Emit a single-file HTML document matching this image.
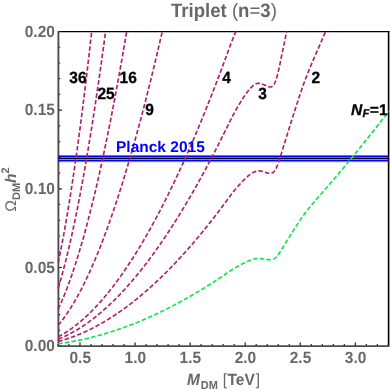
<!DOCTYPE html>
<html><head><meta charset="utf-8"><title>Triplet (n=3)</title>
<style>html,body{margin:0;padding:0;background:#fff;}body{width:390px;height:391px;position:relative;overflow:hidden;font-family:"Liberation Sans",sans-serif;}</style>
</head><body>
<svg width="390" height="391" viewBox="0 0 390 391" style="position:absolute;left:0;top:0;display:block">
<rect width="390" height="391" fill="#fff"/>
<g style="will-change:transform;text-rendering:geometricPrecision">
<path d="M58.2,31.5 H389.40000000000003" fill="none" stroke="#000" stroke-width="1.25"/>
<path d="M388.6,30.9 V346.1" fill="none" stroke="#000" stroke-width="1.6"/>
<path d="M58.2,346.10 h3.6 M58.2,330.37 h2.0 M58.2,314.64 h2.0 M58.2,298.91 h2.0 M58.2,283.18 h2.0 M58.2,267.45 h3.6 M58.2,251.72 h2.0 M58.2,235.99 h2.0 M58.2,220.26 h2.0 M58.2,204.53 h2.0 M58.2,188.80 h3.6 M58.2,173.07 h2.0 M58.2,157.34 h2.0 M58.2,141.61 h2.0 M58.2,125.88 h2.0 M58.2,110.15 h3.6 M58.2,94.42 h2.0 M58.2,78.69 h2.0 M58.2,62.96 h2.0 M58.2,47.23 h2.0 M58.2,31.50 h3.6 M57.95,346.1 v-2.0 M68.96,346.1 v-2.0 M79.98,346.1 v-3.6 M90.99,346.1 v-2.0 M102.00,346.1 v-2.0 M113.02,346.1 v-2.0 M124.03,346.1 v-2.0 M135.04,346.1 v-3.6 M146.06,346.1 v-2.0 M157.07,346.1 v-2.0 M168.08,346.1 v-2.0 M179.10,346.1 v-2.0 M190.11,346.1 v-3.6 M201.12,346.1 v-2.0 M212.14,346.1 v-2.0 M223.15,346.1 v-2.0 M234.16,346.1 v-2.0 M245.18,346.1 v-3.6 M256.19,346.1 v-2.0 M267.20,346.1 v-2.0 M278.22,346.1 v-2.0 M289.23,346.1 v-2.0 M300.24,346.1 v-3.6 M311.26,346.1 v-2.0 M322.27,346.1 v-2.0 M333.28,346.1 v-2.0 M344.30,346.1 v-2.0 M355.31,346.1 v-3.6 M366.32,346.1 v-2.0 M377.34,346.1 v-2.0 M388.35,346.1 v-2.0" fill="none" stroke="#111" stroke-width="1.15"/>
<path d="M58.400000000000006,30.9 V346.1 H389.40000000000003" fill="none" stroke="#4d4d4d" stroke-width="1.9" stroke-linejoin="miter"/>
<rect x="58.30" y="154" width="330.00" height="1" fill="rgba(0,0,255,0.02)"/>
<rect x="58.30" y="155" width="330.00" height="1" fill="rgba(0,0,255,0.58)"/>
<rect x="58.30" y="156" width="330.00" height="1" fill="#0000ff"/>
<rect x="58.30" y="157" width="330.00" height="1" fill="rgba(0,0,110,0.584)"/>
<rect x="58.30" y="158" width="330.00" height="1" fill="#000000"/>
<rect x="58.30" y="159" width="330.00" height="1" fill="rgba(0,0,92,0.46)"/>
<rect x="58.30" y="160" width="330.00" height="1" fill="#0000ff"/>
<rect x="58.30" y="161" width="330.00" height="1" fill="rgba(0,0,255,0.537)"/>
<rect x="58.30" y="162" width="330.00" height="1" fill="rgba(0,0,255,0.075)"/>
<g fill="none" stroke="#AE1F6E" stroke-width="1.65" stroke-dasharray="4.5 2.2">
<path d="M58.20,341.47 L58.53,341.38 L58.86,341.30 L59.19,341.21 L59.52,341.12 L59.85,341.03 L60.18,340.93 L60.51,340.84 L60.84,340.75 L61.17,340.66 L61.51,340.56 L61.84,340.47 L62.17,340.37 L62.50,340.27 L62.83,340.18 L63.16,340.08 L63.49,339.98 L63.82,339.88 L64.15,339.78 L64.48,339.68 L64.81,339.57 L65.14,339.47 L65.47,339.37 L65.80,339.26 L66.13,339.15 L66.46,339.05 L66.79,338.94 L67.12,338.83 L67.45,338.72 L67.78,338.61 L68.12,338.50 L68.45,338.39 L68.78,338.28 L69.11,338.17 L69.44,338.05 L69.77,337.94 L70.10,337.83 L70.43,337.71 L70.76,337.59 L71.09,337.47 L71.42,337.36 L71.75,337.24 L72.08,337.12 L72.41,337.00 L72.74,336.88 L73.07,336.75 L73.40,336.63 L73.73,336.51 L74.06,336.38 L74.39,336.26 L74.73,336.13 L75.06,336.00 L75.39,335.88 L75.72,335.75 L76.05,335.62 L76.38,335.49 L76.71,335.36 L77.04,335.23 L77.37,335.09 L77.70,334.96 L78.03,334.83 L78.36,334.69 L78.69,334.56 L79.02,334.42 L79.35,334.28 L79.68,334.14 L80.01,334.01 L80.34,333.87 L80.67,333.73 L81.01,333.58 L81.34,333.44 L81.67,333.30 L82.00,333.16 L82.33,333.01 L82.66,332.87 L82.99,332.72 L83.32,332.58 L83.65,332.43 L83.98,332.28 L84.31,332.13 L84.64,331.98 L84.97,331.83 L85.30,331.68 L85.63,331.53 L85.96,331.38 L86.29,331.22 L86.62,331.07 L86.95,330.91 L87.28,330.76 L87.62,330.60 L87.95,330.44 L88.28,330.29 L88.61,330.13 L88.94,329.97 L89.27,329.81 L89.60,329.65 L89.93,329.48 L90.26,329.32 L90.59,329.16 L90.92,328.99 L91.25,328.83 L91.58,328.66 L91.91,328.50 L92.24,328.33 L92.57,328.16 L92.90,327.99 L93.23,327.82 L93.56,327.65 L93.90,327.48 L94.23,327.31 L94.56,327.14 L94.89,326.96 L95.22,326.79 L95.55,326.62 L95.88,326.44 L96.21,326.26 L96.54,326.09 L96.87,325.91 L97.20,325.73 L97.53,325.55 L97.86,325.37 L98.19,325.19 L98.52,325.01 L98.85,324.83 L99.18,324.64 L99.51,324.46 L99.84,324.27 L100.17,324.09 L100.51,323.90 L100.84,323.71 L101.17,323.53 L101.50,323.34 L101.83,323.15 L102.16,322.96 L102.49,322.77 L102.82,322.58 L103.15,322.38 L103.48,322.19 L103.81,322.00 L104.14,321.80 L104.47,321.61 L104.80,321.41 L105.13,321.21 L105.46,321.02 L105.79,320.82 L106.12,320.62 L106.45,320.42 L106.78,320.22 L107.12,320.02 L107.45,319.82 L107.78,319.61 L108.11,319.41 L108.44,319.20 L108.77,319.00 L109.10,318.79 L109.43,318.59 L109.76,318.38 L110.09,318.17 L110.42,317.96 L110.75,317.75 L111.08,317.54 L111.41,317.33 L111.74,317.12 L112.07,316.91 L112.40,316.69 L112.73,316.48 L113.06,316.27 L113.40,316.05 L113.73,315.83 L114.06,315.62 L114.39,315.40 L114.72,315.18 L115.05,314.96 L115.38,314.74 L115.71,314.52 L116.04,314.30 L116.37,314.08 L116.70,313.85 L117.03,313.63 L117.36,313.40 L117.69,313.18 L118.02,312.95 L118.35,312.73 L118.68,312.50 L119.01,312.27 L119.34,312.04 L119.67,311.81 L120.01,311.58 L120.34,311.35 L120.67,311.12 L121.00,310.89 L121.33,310.65 L121.66,310.42 L121.99,310.19 L122.32,309.95 L122.65,309.71 L122.98,309.48 L123.31,309.24 L123.64,309.00 L123.97,308.76 L124.30,308.52 L124.63,308.28 L124.96,308.04 L125.29,307.80 L125.62,307.55 L125.95,307.31 L126.29,307.07 L126.62,306.82 L126.95,306.58 L127.28,306.33 L127.61,306.08 L127.94,305.83 L128.27,305.59 L128.60,305.34 L128.93,305.09 L129.26,304.83 L129.59,304.58 L129.92,304.33 L130.25,304.08 L130.58,303.82 L130.91,303.57 L131.24,303.31 L131.57,303.06 L131.90,302.80 L132.23,302.54 L132.56,302.29 L132.90,302.03 L133.23,301.77 L133.56,301.51 L133.89,301.25 L134.22,300.98 L134.55,300.72 L134.88,300.46 L135.21,300.20 L135.54,299.93 L135.87,299.67 L136.20,299.40 L136.53,299.13 L136.86,298.86 L137.19,298.60 L137.52,298.33 L137.85,298.06 L138.18,297.79 L138.51,297.52 L138.84,297.24 L139.17,296.97 L139.51,296.70 L139.84,296.42 L140.17,296.15 L140.50,295.87 L140.83,295.60 L141.16,295.32 L141.49,295.04 L141.82,294.77 L142.15,294.49 L142.48,294.21 L142.81,293.93 L143.14,293.65 L143.47,293.36 L143.80,293.08 L144.13,292.80 L144.46,292.51 L144.79,292.23 L145.12,291.94 L145.45,291.66 L145.79,291.37 L146.12,291.08 L146.45,290.80 L146.78,290.51 L147.11,290.22 L147.44,289.93 L147.77,289.64 L148.10,289.34 L148.43,289.05 L148.76,288.76 L149.09,288.46 L149.42,288.17 L149.75,287.87 L150.08,287.58 L150.41,287.28 L150.74,286.98 L151.07,286.69 L151.40,286.39 L151.73,286.09 L152.06,285.79 L152.40,285.49 L152.73,285.18 L153.06,284.88 L153.39,284.58 L153.72,284.28 L154.05,283.97 L154.38,283.67 L154.71,283.36 L155.04,283.05 L155.37,282.75 L155.70,282.44 L156.03,282.13 L156.36,281.82 L156.69,281.51 L157.02,281.20 L157.35,280.89 L157.68,280.58 L158.01,280.26 L158.34,279.95 L158.68,279.64 L159.01,279.32 L159.34,279.00 L159.67,278.69 L160.00,278.37 L160.33,278.05 L160.66,277.74 L160.99,277.42 L161.32,277.10 L161.65,276.78 L161.98,276.45 L162.31,276.13 L162.64,275.81 L162.97,275.49 L163.30,275.16 L163.63,274.84 L163.96,274.51 L164.29,274.19 L164.62,273.86 L164.95,273.53 L165.29,273.20 L165.62,272.88 L165.95,272.55 L166.28,272.22 L166.61,271.89 L166.94,271.55 L167.27,271.22 L167.60,270.89 L167.93,270.56 L168.26,270.22 L168.59,269.89 L168.92,269.55 L169.25,269.21 L169.58,268.88 L169.91,268.54 L170.24,268.20 L170.57,267.86 L170.90,267.52 L171.23,267.18 L171.56,266.84 L171.90,266.50 L172.23,266.16 L172.56,265.81 L172.89,265.47 L173.22,265.12 L173.55,264.78 L173.88,264.43 L174.21,264.09 L174.54,263.74 L174.87,263.39 L175.20,263.04 L175.53,262.69 L175.86,262.34 L176.19,261.99 L176.52,261.64 L176.85,261.29 L177.18,260.94 L177.51,260.58 L177.84,260.23 L178.18,259.87 L178.51,259.52 L178.84,259.16 L179.17,258.81 L179.50,258.45 L179.83,258.09 L180.16,257.73 L180.49,257.37 L180.82,257.01 L181.15,256.65 L181.48,256.29 L181.81,255.93 L182.14,255.56 L182.47,255.20 L182.80,254.84 L183.13,254.47 L183.46,254.11 L183.79,253.74 L184.12,253.37 L184.45,253.01 L184.79,252.64 L185.12,252.27 L185.45,251.90 L185.78,251.53 L186.11,251.16 L186.44,250.79 L186.77,250.41 L187.10,250.04 L187.43,249.67 L187.76,249.29 L188.09,248.92 L188.42,248.54 L188.75,248.17 L189.08,247.79 L189.41,247.41 L189.74,247.03 L190.07,246.66 L190.40,246.28 L190.73,245.90 L191.07,245.51 L191.40,245.13 L191.73,244.75 L192.06,244.37 L192.39,243.98 L192.72,243.60 L193.05,243.22 L193.38,242.83 L193.71,242.44 L194.04,242.06 L194.37,241.67 L194.70,241.28 L195.03,240.89 L195.36,240.50 L195.69,240.11 L196.02,239.72 L196.35,239.33 L196.68,238.94 L197.01,238.55 L197.34,238.15 L197.68,237.76 L198.01,237.36 L198.34,236.97 L198.67,236.57 L199.00,236.18 L199.33,235.78 L199.66,235.38 L199.99,234.98 L200.32,234.58 L200.65,234.18 L200.98,233.78 L201.31,233.38 L201.64,232.98 L201.97,232.58 L202.30,232.17 L202.63,231.77 L202.96,231.36 L203.29,230.96 L203.62,230.55 L203.95,230.15 L204.29,229.74 L204.62,229.33 L204.95,228.92 L205.28,228.51 L205.61,228.10 L205.94,227.69 L206.27,227.28 L206.60,226.87 L206.93,226.46 L207.26,226.05 L207.59,225.63 L207.92,225.22 L208.25,224.80 L208.58,224.39 L208.91,223.97 L209.24,223.55 L209.57,223.14 L209.90,222.72 L210.23,222.30 L210.57,221.88 L210.90,221.46 L211.23,221.04 L211.56,220.62 L211.89,220.20 L212.22,219.77 L212.55,219.35 L212.88,218.93 L213.21,218.50 L213.54,218.08 L213.87,217.65 L214.20,217.23 L214.53,216.80 L214.86,216.37 L215.19,215.94 L215.52,215.51 L215.85,215.08 L216.18,214.65 L216.51,214.22 L216.84,213.79 L217.18,213.36 L217.51,212.93 L217.84,212.49 L218.17,212.06 L218.50,211.62 L218.83,211.19 L219.16,210.75 L219.49,210.32 L219.82,209.88 L220.15,209.44 L220.48,209.00 L220.81,208.56 L221.14,208.12 L221.47,207.68 L221.80,207.24 L222.13,206.80 L222.46,206.36 L222.79,205.91 L223.12,205.47 L223.46,205.03 L223.79,204.58 L224.12,204.14 L224.45,203.69 L224.78,203.24 L225.11,202.80 L225.44,202.35 L225.77,201.90 L226.10,201.45 L226.43,201.00 L226.76,200.55 L227.09,200.10 L227.42,199.65 L227.75,199.19 L228.08,198.74 L228.41,198.29 L228.74,197.83 L229.07,197.38 L229.40,196.93 L229.73,196.48 L230.07,196.04 L230.40,195.60 L230.73,195.16 L231.06,194.73 L231.39,194.30 L231.72,193.87 L232.05,193.44 L232.38,193.02 L232.71,192.61 L233.04,192.19 L233.37,191.78 L233.70,191.37 L234.03,190.97 L234.36,190.56 L234.69,190.16 L235.02,189.77 L235.35,189.37 L235.68,188.98 L236.01,188.59 L236.34,188.20 L236.68,187.81 L237.01,187.43 L237.34,187.05 L237.67,186.67 L238.00,186.29 L238.33,185.91 L238.66,185.54 L238.99,185.17 L239.32,184.80 L239.65,184.43 L239.98,184.07 L240.31,183.71 L240.64,183.35 L240.97,182.99 L241.30,182.63 L241.63,182.28 L241.96,181.93 L242.29,181.59 L242.62,181.24 L242.96,180.90 L243.29,180.56 L243.62,180.23 L243.95,179.89 L244.28,179.56 L244.61,179.24 L244.94,178.91 L245.27,178.59 L245.60,178.28 L245.93,177.97 L246.26,177.66 L246.59,177.35 L246.92,177.05 L247.25,176.76 L247.58,176.47 L247.91,176.19 L248.24,175.91 L248.57,175.63 L248.90,175.37 L249.23,175.10 L249.57,174.85 L249.90,174.60 L250.23,174.36 L250.56,174.12 L250.89,173.89 L251.22,173.66 L251.55,173.45 L251.88,173.24 L252.21,173.03 L252.54,172.84 L252.87,172.65 L253.20,172.47 L253.53,172.30 L253.86,172.13 L254.19,171.98 L254.52,171.83 L254.85,171.70 L255.18,171.57 L255.51,171.45 L255.85,171.34 L256.18,171.25 L256.51,171.16 L256.84,171.09 L257.17,171.04 L257.50,170.99 L257.83,170.96 L258.16,170.94 L258.49,170.93 L258.82,170.93 L259.15,170.94 L259.48,170.96 L259.81,170.98 L260.14,171.02 L260.47,171.06 L260.80,171.11 L261.13,171.17 L261.46,171.24 L261.79,171.31 L262.12,171.39 L262.46,171.47 L262.79,171.55 L263.12,171.64 L263.45,171.73 L263.78,171.83 L264.11,171.92 L264.44,172.02 L264.77,172.12 L265.10,172.22 L265.43,172.32 L265.76,172.42 L266.09,172.53 L266.42,172.63 L266.75,172.73 L267.08,172.84 L267.41,172.93 L267.74,173.02 L268.07,173.10 L268.40,173.18 L268.73,173.24 L269.07,173.29 L269.40,173.33 L269.73,173.36 L270.06,173.37 L270.39,173.37 L270.72,173.35 L271.05,173.31 L271.38,173.25 L271.71,173.16 L272.04,173.05 L272.37,172.89 L272.70,172.71 L273.03,172.49 L273.36,172.24 L273.69,171.95 L274.02,171.61 L274.35,171.23 L274.68,170.80 L275.01,170.31 L275.35,169.78 L275.68,169.21 L276.01,168.59 L276.34,167.92 L276.67,167.20 L277.00,166.44 L277.33,165.63 L277.66,164.78 L277.99,163.89 L278.32,162.96 L278.65,162.00 L278.98,161.02 L279.31,160.02 L279.64,159.00 L279.97,157.95 L280.30,156.90 L280.63,155.83 L280.96,154.77 L281.29,153.70 L281.62,152.63 L281.96,151.56 L282.29,150.50 L282.62,149.43 L282.95,148.36 L283.28,147.30 L283.61,146.23 L283.94,145.16 L284.27,144.10 L284.60,143.03 L284.93,141.96 L285.26,140.90 L285.59,139.83 L285.92,138.77 L286.25,137.70 L286.58,136.64 L286.91,135.57 L287.24,134.51 L287.57,133.45 L287.90,132.39 L288.24,131.33 L288.57,130.27 L288.90,129.21 L289.23,128.15 L289.56,127.10 L289.89,126.04 L290.22,124.99 L290.55,123.94 L290.88,122.89 L291.21,121.84 L291.54,120.79 L291.87,119.74 L292.20,118.69 L292.53,117.65 L292.86,116.60 L293.19,115.56 L293.52,114.52 L293.85,113.48 L294.18,112.44 L294.51,111.40 L294.85,110.37 L295.18,109.33 L295.51,108.30 L295.84,107.27 L296.17,106.24 L296.50,105.22 L296.83,104.19 L297.16,103.17 L297.49,102.15 L297.82,101.14 L298.15,100.13 L298.48,99.12 L298.81,98.11 L299.14,97.11 L299.47,96.12 L299.80,95.13 L300.13,94.15 L300.46,93.17 L300.79,92.20 L301.12,91.23 L301.46,90.27 L301.79,89.32 L302.12,88.37 L302.45,87.43 L302.78,86.49 L303.11,85.56 L303.44,84.64 L303.77,83.72 L304.10,82.81 L304.43,81.91 L304.76,81.01 L305.09,80.13 L305.42,79.25 L305.75,78.37 L306.08,77.51 L306.41,76.65 L306.74,75.80 L307.07,74.96 L307.40,74.12 L307.74,73.29 L308.07,72.46 L308.40,71.64 L308.73,70.83 L309.06,70.01 L309.39,69.21 L309.72,68.41 L310.05,67.61 L310.38,66.81 L310.71,66.03 L311.04,65.24 L311.37,64.46 L311.70,63.68 L312.03,62.91 L312.36,62.14 L312.69,61.37 L313.02,60.60 L313.35,59.84 L313.68,59.07 L314.01,58.31 L314.35,57.54 L314.68,56.78 L315.01,56.01 L315.34,55.25 L315.67,54.48 L316.00,53.72 L316.33,52.95 L316.66,52.19 L316.99,51.42 L317.32,50.66 L317.65,49.90 L317.98,49.13 L318.31,48.37 L318.64,47.60 L318.97,46.84 L319.30,46.07 L319.63,45.31 L319.96,44.54 L320.29,43.78 L320.63,43.01 L320.96,42.25 L321.29,41.48 L321.62,40.72 L321.95,39.95 L322.28,39.19 L322.61,38.42 L322.94,37.66 L323.27,36.90 L323.60,36.13 L323.93,35.37 L324.26,34.60 L324.59,33.84 L324.92,33.07 L325.25,32.31 L325.58,31.54 L325.60,31.50"/>
<path d="M58.20,339.16 L58.53,339.03 L58.86,338.89 L59.19,338.76 L59.52,338.63 L59.85,338.49 L60.18,338.35 L60.51,338.21 L60.84,338.07 L61.17,337.93 L61.51,337.79 L61.84,337.65 L62.17,337.51 L62.50,337.36 L62.83,337.21 L63.16,337.07 L63.49,336.92 L63.82,336.77 L64.15,336.62 L64.48,336.46 L64.81,336.31 L65.14,336.15 L65.47,336.00 L65.80,335.84 L66.13,335.68 L66.46,335.52 L66.79,335.36 L67.12,335.20 L67.45,335.04 L67.78,334.87 L68.12,334.71 L68.45,334.54 L68.78,334.37 L69.11,334.20 L69.44,334.03 L69.77,333.86 L70.10,333.69 L70.43,333.51 L70.76,333.34 L71.09,333.16 L71.42,332.98 L71.75,332.81 L72.08,332.63 L72.41,332.45 L72.74,332.26 L73.07,332.08 L73.40,331.90 L73.73,331.71 L74.06,331.52 L74.39,331.33 L74.73,331.15 L75.06,330.96 L75.39,330.76 L75.72,330.57 L76.05,330.38 L76.38,330.18 L76.71,329.99 L77.04,329.79 L77.37,329.59 L77.70,329.39 L78.03,329.19 L78.36,328.99 L78.69,328.78 L79.02,328.58 L79.35,328.37 L79.68,328.17 L80.01,327.96 L80.34,327.75 L80.67,327.54 L81.01,327.33 L81.34,327.11 L81.67,326.90 L82.00,326.69 L82.33,326.47 L82.66,326.25 L82.99,326.03 L83.32,325.81 L83.65,325.59 L83.98,325.37 L84.31,325.15 L84.64,324.92 L84.97,324.70 L85.30,324.47 L85.63,324.24 L85.96,324.01 L86.29,323.78 L86.62,323.55 L86.95,323.32 L87.28,323.09 L87.62,322.85 L87.95,322.62 L88.28,322.38 L88.61,322.14 L88.94,321.90 L89.27,321.66 L89.60,321.42 L89.93,321.18 L90.26,320.93 L90.59,320.69 L90.92,320.44 L91.25,320.19 L91.58,319.95 L91.91,319.70 L92.24,319.45 L92.57,319.19 L92.90,318.94 L93.23,318.69 L93.56,318.43 L93.90,318.17 L94.23,317.92 L94.56,317.66 L94.89,317.40 L95.22,317.14 L95.55,316.87 L95.88,316.61 L96.21,316.35 L96.54,316.08 L96.87,315.81 L97.20,315.55 L97.53,315.28 L97.86,315.01 L98.19,314.73 L98.52,314.46 L98.85,314.19 L99.18,313.91 L99.51,313.64 L99.84,313.36 L100.17,313.08 L100.51,312.80 L100.84,312.52 L101.17,312.24 L101.50,311.96 L101.83,311.67 L102.16,311.39 L102.49,311.10 L102.82,310.81 L103.15,310.53 L103.48,310.24 L103.81,309.95 L104.14,309.65 L104.47,309.36 L104.80,309.07 L105.13,308.77 L105.46,308.47 L105.79,308.18 L106.12,307.88 L106.45,307.58 L106.78,307.28 L107.12,306.98 L107.45,306.67 L107.78,306.37 L108.11,306.06 L108.44,305.76 L108.77,305.45 L109.10,305.14 L109.43,304.83 L109.76,304.52 L110.09,304.21 L110.42,303.89 L110.75,303.58 L111.08,303.26 L111.41,302.95 L111.74,302.63 L112.07,302.31 L112.40,301.99 L112.73,301.67 L113.06,301.35 L113.40,301.02 L113.73,300.70 L114.06,300.37 L114.39,300.05 L114.72,299.72 L115.05,299.39 L115.38,299.06 L115.71,298.73 L116.04,298.40 L116.37,298.06 L116.70,297.73 L117.03,297.39 L117.36,297.06 L117.69,296.72 L118.02,296.38 L118.35,296.04 L118.68,295.70 L119.01,295.36 L119.34,295.01 L119.67,294.67 L120.01,294.32 L120.34,293.98 L120.67,293.63 L121.00,293.28 L121.33,292.93 L121.66,292.58 L121.99,292.23 L122.32,291.87 L122.65,291.52 L122.98,291.16 L123.31,290.81 L123.64,290.45 L123.97,290.09 L124.30,289.73 L124.63,289.37 L124.96,289.01 L125.29,288.65 L125.62,288.28 L125.95,287.92 L126.29,287.55 L126.62,287.18 L126.95,286.81 L127.28,286.44 L127.61,286.07 L127.94,285.70 L128.27,285.33 L128.60,284.95 L128.93,284.58 L129.26,284.20 L129.59,283.82 L129.92,283.45 L130.25,283.07 L130.58,282.69 L130.91,282.30 L131.24,281.92 L131.57,281.54 L131.90,281.15 L132.23,280.77 L132.56,280.38 L132.90,279.99 L133.23,279.60 L133.56,279.21 L133.89,278.82 L134.22,278.43 L134.55,278.03 L134.88,277.64 L135.21,277.24 L135.54,276.85 L135.87,276.45 L136.20,276.05 L136.53,275.65 L136.86,275.25 L137.19,274.84 L137.52,274.44 L137.85,274.04 L138.18,273.63 L138.51,273.22 L138.84,272.82 L139.17,272.41 L139.51,272.00 L139.84,271.59 L140.17,271.18 L140.50,270.76 L140.83,270.35 L141.16,269.93 L141.49,269.52 L141.82,269.10 L142.15,268.68 L142.48,268.26 L142.81,267.84 L143.14,267.42 L143.47,267.00 L143.80,266.57 L144.13,266.15 L144.46,265.72 L144.79,265.29 L145.12,264.87 L145.45,264.44 L145.79,264.01 L146.12,263.58 L146.45,263.14 L146.78,262.71 L147.11,262.28 L147.44,261.84 L147.77,261.40 L148.10,260.97 L148.43,260.53 L148.76,260.09 L149.09,259.65 L149.42,259.20 L149.75,258.76 L150.08,258.32 L150.41,257.87 L150.74,257.43 L151.07,256.98 L151.40,256.53 L151.73,256.08 L152.06,255.63 L152.40,255.18 L152.73,254.73 L153.06,254.27 L153.39,253.82 L153.72,253.36 L154.05,252.91 L154.38,252.45 L154.71,251.99 L155.04,251.53 L155.37,251.07 L155.70,250.61 L156.03,250.14 L156.36,249.68 L156.69,249.22 L157.02,248.75 L157.35,248.28 L157.68,247.81 L158.01,247.35 L158.34,246.87 L158.68,246.40 L159.01,245.93 L159.34,245.46 L159.67,244.98 L160.00,244.51 L160.33,244.03 L160.66,243.55 L160.99,243.07 L161.32,242.59 L161.65,242.11 L161.98,241.63 L162.31,241.15 L162.64,240.67 L162.97,240.18 L163.30,239.69 L163.63,239.21 L163.96,238.72 L164.29,238.23 L164.62,237.74 L164.95,237.25 L165.29,236.76 L165.62,236.26 L165.95,235.77 L166.28,235.27 L166.61,234.78 L166.94,234.28 L167.27,233.78 L167.60,233.28 L167.93,232.78 L168.26,232.28 L168.59,231.78 L168.92,231.28 L169.25,230.77 L169.58,230.27 L169.91,229.76 L170.24,229.25 L170.57,228.74 L170.90,228.23 L171.23,227.72 L171.56,227.21 L171.90,226.70 L172.23,226.18 L172.56,225.67 L172.89,225.15 L173.22,224.64 L173.55,224.12 L173.88,223.60 L174.21,223.08 L174.54,222.56 L174.87,222.04 L175.20,221.51 L175.53,220.99 L175.86,220.46 L176.19,219.94 L176.52,219.41 L176.85,218.88 L177.18,218.35 L177.51,217.82 L177.84,217.29 L178.18,216.76 L178.51,216.23 L178.84,215.69 L179.17,215.16 L179.50,214.62 L179.83,214.09 L180.16,213.55 L180.49,213.01 L180.82,212.47 L181.15,211.93 L181.48,211.38 L181.81,210.84 L182.14,210.30 L182.47,209.75 L182.80,209.20 L183.13,208.66 L183.46,208.11 L183.79,207.56 L184.12,207.01 L184.45,206.46 L184.79,205.91 L185.12,205.35 L185.45,204.80 L185.78,204.24 L186.11,203.69 L186.44,203.13 L186.77,202.57 L187.10,202.01 L187.43,201.45 L187.76,200.89 L188.09,200.33 L188.42,199.76 L188.75,199.20 L189.08,198.63 L189.41,198.07 L189.74,197.50 L190.07,196.93 L190.40,196.36 L190.73,195.79 L191.07,195.22 L191.40,194.65 L191.73,194.08 L192.06,193.50 L192.39,192.93 L192.72,192.35 L193.05,191.77 L193.38,191.19 L193.71,190.62 L194.04,190.04 L194.37,189.45 L194.70,188.87 L195.03,188.29 L195.36,187.70 L195.69,187.12 L196.02,186.53 L196.35,185.95 L196.68,185.36 L197.01,184.77 L197.34,184.18 L197.68,183.59 L198.01,183.00 L198.34,182.40 L198.67,181.81 L199.00,181.21 L199.33,180.62 L199.66,180.02 L199.99,179.42 L200.32,178.82 L200.65,178.22 L200.98,177.62 L201.31,177.02 L201.64,176.42 L201.97,175.81 L202.30,175.21 L202.63,174.60 L202.96,174.00 L203.29,173.39 L203.62,172.78 L203.95,172.17 L204.29,171.56 L204.62,170.95 L204.95,170.33 L205.28,169.72 L205.61,169.11 L205.94,168.49 L206.27,167.87 L206.60,167.26 L206.93,166.64 L207.26,166.02 L207.59,165.40 L207.92,164.78 L208.25,164.16 L208.58,163.53 L208.91,162.91 L209.24,162.28 L209.57,161.66 L209.90,161.03 L210.23,160.40 L210.57,159.77 L210.90,159.14 L211.23,158.51 L211.56,157.88 L211.89,157.25 L212.22,156.61 L212.55,155.98 L212.88,155.34 L213.21,154.70 L213.54,154.07 L213.87,153.43 L214.20,152.79 L214.53,152.15 L214.86,151.51 L215.19,150.86 L215.52,150.22 L215.85,149.58 L216.18,148.93 L216.51,148.28 L216.84,147.64 L217.18,146.99 L217.51,146.34 L217.84,145.69 L218.17,145.04 L218.50,144.39 L218.83,143.73 L219.16,143.08 L219.49,142.42 L219.82,141.77 L220.15,141.11 L220.48,140.45 L220.81,139.79 L221.14,139.13 L221.47,138.47 L221.80,137.81 L222.13,137.15 L222.46,136.49 L222.79,135.82 L223.12,135.16 L223.46,134.49 L223.79,133.82 L224.12,133.15 L224.45,132.49 L224.78,131.82 L225.11,131.14 L225.44,130.47 L225.77,129.80 L226.10,129.13 L226.43,128.45 L226.76,127.77 L227.09,127.10 L227.42,126.42 L227.75,125.74 L228.08,125.06 L228.41,124.38 L228.74,123.70 L229.07,123.02 L229.40,122.34 L229.73,121.67 L230.07,121.01 L230.40,120.34 L230.73,119.69 L231.06,119.04 L231.39,118.39 L231.72,117.75 L232.05,117.12 L232.38,116.49 L232.71,115.86 L233.04,115.24 L233.37,114.62 L233.70,114.01 L234.03,113.40 L234.36,112.80 L234.69,112.19 L235.02,111.60 L235.35,111.01 L235.68,110.42 L236.01,109.83 L236.34,109.25 L236.68,108.67 L237.01,108.09 L237.34,107.52 L237.67,106.95 L238.00,106.38 L238.33,105.82 L238.66,105.26 L238.99,104.70 L239.32,104.15 L239.65,103.60 L239.98,103.05 L240.31,102.51 L240.64,101.97 L240.97,101.43 L241.30,100.90 L241.63,100.37 L241.96,99.85 L242.29,99.33 L242.62,98.81 L242.96,98.30 L243.29,97.79 L243.62,97.29 L243.95,96.79 L244.28,96.30 L244.61,95.81 L244.94,95.32 L245.27,94.84 L245.60,94.37 L245.93,93.90 L246.26,93.44 L246.59,92.98 L246.92,92.53 L247.25,92.09 L247.58,91.66 L247.91,91.23 L248.24,90.81 L248.57,90.40 L248.90,90.00 L249.23,89.61 L249.57,89.22 L249.90,88.85 L250.23,88.48 L250.56,88.13 L250.89,87.78 L251.22,87.44 L251.55,87.12 L251.88,86.80 L252.21,86.50 L252.54,86.20 L252.87,85.92 L253.20,85.65 L253.53,85.39 L253.86,85.15 L254.19,84.92 L254.52,84.70 L254.85,84.49 L255.18,84.30 L255.51,84.13 L255.85,83.96 L256.18,83.82 L256.51,83.70 L256.84,83.59 L257.17,83.50 L257.50,83.44 L257.83,83.39 L258.16,83.36 L258.49,83.35 L258.82,83.35 L259.15,83.36 L259.48,83.39 L259.81,83.43 L260.14,83.48 L260.47,83.54 L260.80,83.62 L261.13,83.71 L261.46,83.81 L261.79,83.91 L262.12,84.03 L262.46,84.15 L262.79,84.28 L263.12,84.41 L263.45,84.55 L263.78,84.69 L264.11,84.83 L264.44,84.98 L264.77,85.13 L265.10,85.28 L265.43,85.43 L265.76,85.59 L266.09,85.74 L266.42,85.90 L266.75,86.05 L267.08,86.20 L267.41,86.35 L267.74,86.48 L268.07,86.61 L268.40,86.72 L268.73,86.81 L269.07,86.89 L269.40,86.95 L269.73,86.99 L270.06,87.01 L270.39,87.00 L270.72,86.98 L271.05,86.92 L271.38,86.83 L271.71,86.70 L272.04,86.52 L272.37,86.29 L272.70,86.02 L273.03,85.69 L273.36,85.31 L273.69,84.87 L274.02,84.37 L274.35,83.79 L274.68,83.14 L275.01,82.42 L275.35,81.63 L275.68,80.76 L276.01,79.83 L276.34,78.83 L276.67,77.76 L277.00,76.61 L277.33,75.40 L277.66,74.12 L277.99,72.78 L278.32,71.39 L278.65,69.95 L278.98,68.49 L279.31,66.98 L279.64,65.45 L279.97,63.88 L280.30,62.30 L280.63,60.70 L280.96,59.10 L281.29,57.50 L281.62,55.90 L281.96,54.30 L282.29,52.70 L282.62,51.10 L282.95,49.50 L283.28,47.90 L283.61,46.30 L283.94,44.70 L284.27,43.10 L284.60,41.50 L284.93,39.90 L285.26,38.30 L285.59,36.70 L285.92,35.10 L286.25,33.50 L286.58,31.91 L286.67,31.50"/>
<path d="M58.20,336.84 L58.53,336.67 L58.86,336.49 L59.19,336.31 L59.52,336.13 L59.85,335.95 L60.18,335.77 L60.51,335.59 L60.84,335.40 L61.17,335.21 L61.51,335.02 L61.84,334.83 L62.17,334.64 L62.50,334.45 L62.83,334.25 L63.16,334.05 L63.49,333.86 L63.82,333.66 L64.15,333.45 L64.48,333.25 L64.81,333.05 L65.14,332.84 L65.47,332.63 L65.80,332.42 L66.13,332.21 L66.46,332.00 L66.79,331.78 L67.12,331.57 L67.45,331.35 L67.78,331.13 L68.12,330.91 L68.45,330.69 L68.78,330.46 L69.11,330.24 L69.44,330.01 L69.77,329.78 L70.10,329.55 L70.43,329.32 L70.76,329.08 L71.09,328.85 L71.42,328.61 L71.75,328.37 L72.08,328.14 L72.41,327.89 L72.74,327.65 L73.07,327.41 L73.40,327.16 L73.73,326.91 L74.06,326.66 L74.39,326.41 L74.73,326.16 L75.06,325.91 L75.39,325.65 L75.72,325.39 L76.05,325.14 L76.38,324.88 L76.71,324.61 L77.04,324.35 L77.37,324.09 L77.70,323.82 L78.03,323.55 L78.36,323.28 L78.69,323.01 L79.02,322.74 L79.35,322.46 L79.68,322.19 L80.01,321.91 L80.34,321.63 L80.67,321.35 L81.01,321.07 L81.34,320.79 L81.67,320.50 L82.00,320.21 L82.33,319.93 L82.66,319.64 L82.99,319.34 L83.32,319.05 L83.65,318.76 L83.98,318.46 L84.31,318.16 L84.64,317.86 L84.97,317.56 L85.30,317.26 L85.63,316.96 L85.96,316.65 L86.29,316.35 L86.62,316.04 L86.95,315.73 L87.28,315.42 L87.62,315.10 L87.95,314.79 L88.28,314.47 L88.61,314.16 L88.94,313.84 L89.27,313.52 L89.60,313.19 L89.93,312.87 L90.26,312.54 L90.59,312.22 L90.92,311.89 L91.25,311.56 L91.58,311.23 L91.91,310.90 L92.24,310.56 L92.57,310.22 L92.90,309.89 L93.23,309.55 L93.56,309.21 L93.90,308.87 L94.23,308.52 L94.56,308.18 L94.89,307.83 L95.22,307.48 L95.55,307.13 L95.88,306.78 L96.21,306.43 L96.54,306.07 L96.87,305.72 L97.20,305.36 L97.53,305.00 L97.86,304.64 L98.19,304.28 L98.52,303.92 L98.85,303.55 L99.18,303.18 L99.51,302.82 L99.84,302.45 L100.17,302.08 L100.51,301.70 L100.84,301.33 L101.17,300.95 L101.50,300.58 L101.83,300.20 L102.16,299.82 L102.49,299.44 L102.82,299.05 L103.15,298.67 L103.48,298.28 L103.81,297.89 L104.14,297.51 L104.47,297.11 L104.80,296.72 L105.13,296.33 L105.46,295.93 L105.79,295.54 L106.12,295.14 L106.45,294.74 L106.78,294.34 L107.12,293.93 L107.45,293.53 L107.78,293.12 L108.11,292.72 L108.44,292.31 L108.77,291.90 L109.10,291.49 L109.43,291.07 L109.76,290.66 L110.09,290.24 L110.42,289.83 L110.75,289.41 L111.08,288.99 L111.41,288.56 L111.74,288.14 L112.07,287.71 L112.40,287.29 L112.73,286.86 L113.06,286.43 L113.40,286.00 L113.73,285.57 L114.06,285.13 L114.39,284.70 L114.72,284.26 L115.05,283.82 L115.38,283.38 L115.71,282.94 L116.04,282.50 L116.37,282.05 L116.70,281.61 L117.03,281.16 L117.36,280.71 L117.69,280.26 L118.02,279.81 L118.35,279.35 L118.68,278.90 L119.01,278.44 L119.34,277.99 L119.67,277.53 L120.01,277.07 L120.34,276.60 L120.67,276.14 L121.00,275.67 L121.33,275.21 L121.66,274.74 L121.99,274.27 L122.32,273.80 L122.65,273.33 L122.98,272.85 L123.31,272.38 L123.64,271.90 L123.97,271.42 L124.30,270.94 L124.63,270.46 L124.96,269.98 L125.29,269.49 L125.62,269.01 L125.95,268.52 L126.29,268.03 L126.62,267.54 L126.95,267.05 L127.28,266.56 L127.61,266.06 L127.94,265.57 L128.27,265.07 L128.60,264.57 L128.93,264.07 L129.26,263.57 L129.59,263.07 L129.92,262.56 L130.25,262.06 L130.58,261.55 L130.91,261.04 L131.24,260.53 L131.57,260.02 L131.90,259.50 L132.23,258.99 L132.56,258.47 L132.90,257.95 L133.23,257.44 L133.56,256.91 L133.89,256.39 L134.22,255.87 L134.55,255.34 L134.88,254.82 L135.21,254.29 L135.54,253.76 L135.87,253.23 L136.20,252.70 L136.53,252.16 L136.86,251.63 L137.19,251.09 L137.52,250.56 L137.85,250.02 L138.18,249.48 L138.51,248.93 L138.84,248.39 L139.17,247.84 L139.51,247.30 L139.84,246.75 L140.17,246.20 L140.50,245.65 L140.83,245.10 L141.16,244.54 L141.49,243.99 L141.82,243.43 L142.15,242.87 L142.48,242.31 L142.81,241.75 L143.14,241.19 L143.47,240.63 L143.80,240.06 L144.13,239.50 L144.46,238.93 L144.79,238.36 L145.12,237.79 L145.45,237.22 L145.79,236.64 L146.12,236.07 L146.45,235.49 L146.78,234.91 L147.11,234.33 L147.44,233.75 L147.77,233.17 L148.10,232.59 L148.43,232.00 L148.76,231.42 L149.09,230.83 L149.42,230.24 L149.75,229.65 L150.08,229.06 L150.41,228.46 L150.74,227.87 L151.07,227.27 L151.40,226.67 L151.73,226.08 L152.06,225.48 L152.40,224.87 L152.73,224.27 L153.06,223.67 L153.39,223.06 L153.72,222.45 L154.05,221.84 L154.38,221.23 L154.71,220.62 L155.04,220.01 L155.37,219.39 L155.70,218.78 L156.03,218.16 L156.36,217.54 L156.69,216.92 L157.02,216.30 L157.35,215.68 L157.68,215.05 L158.01,214.43 L158.34,213.80 L158.68,213.17 L159.01,212.54 L159.34,211.91 L159.67,211.28 L160.00,210.64 L160.33,210.01 L160.66,209.37 L160.99,208.73 L161.32,208.09 L161.65,207.45 L161.98,206.81 L162.31,206.17 L162.64,205.52 L162.97,204.87 L163.30,204.23 L163.63,203.58 L163.96,202.93 L164.29,202.27 L164.62,201.62 L164.95,200.97 L165.29,200.31 L165.62,199.65 L165.95,198.99 L166.28,198.33 L166.61,197.67 L166.94,197.01 L167.27,196.34 L167.60,195.68 L167.93,195.01 L168.26,194.34 L168.59,193.67 L168.92,193.00 L169.25,192.33 L169.58,191.65 L169.91,190.98 L170.24,190.30 L170.57,189.62 L170.90,188.94 L171.23,188.26 L171.56,187.58 L171.90,186.90 L172.23,186.21 L172.56,185.53 L172.89,184.84 L173.22,184.15 L173.55,183.46 L173.88,182.77 L174.21,182.07 L174.54,181.38 L174.87,180.68 L175.20,179.98 L175.53,179.29 L175.86,178.59 L176.19,177.88 L176.52,177.18 L176.85,176.48 L177.18,175.77 L177.51,175.07 L177.84,174.36 L178.18,173.65 L178.51,172.94 L178.84,172.22 L179.17,171.51 L179.50,170.80 L179.83,170.08 L180.16,169.36 L180.49,168.64 L180.82,167.92 L181.15,167.20 L181.48,166.48 L181.81,165.75 L182.14,165.03 L182.47,164.30 L182.80,163.57 L183.13,162.84 L183.46,162.11 L183.79,161.38 L184.12,160.65 L184.45,159.91 L184.79,159.17 L185.12,158.44 L185.45,157.70 L185.78,156.96 L186.11,156.22 L186.44,155.47 L186.77,154.73 L187.10,153.98 L187.43,153.24 L187.76,152.49 L188.09,151.74 L188.42,150.99 L188.75,150.23 L189.08,149.48 L189.41,148.72 L189.74,147.97 L190.07,147.21 L190.40,146.45 L190.73,145.69 L191.07,144.93 L191.40,144.17 L191.73,143.40 L192.06,142.64 L192.39,141.87 L192.72,141.10 L193.05,140.33 L193.38,139.56 L193.71,138.79 L194.04,138.01 L194.37,137.24 L194.70,136.46 L195.03,135.68 L195.36,134.91 L195.69,134.13 L196.02,133.34 L196.35,132.56 L196.68,131.78 L197.01,130.99 L197.34,130.20 L197.68,129.42 L198.01,128.63 L198.34,127.84 L198.67,127.04 L199.00,126.25 L199.33,125.46 L199.66,124.66 L199.99,123.86 L200.32,123.06 L200.65,122.26 L200.98,121.46 L201.31,120.66 L201.64,119.86 L201.97,119.05 L202.30,118.24 L202.63,117.44 L202.96,116.63 L203.29,115.82 L203.62,115.01 L203.95,114.19 L204.29,113.38 L204.62,112.56 L204.95,111.75 L205.28,110.93 L205.61,110.11 L205.94,109.29 L206.27,108.47 L206.60,107.64 L206.93,106.82 L207.26,105.99 L207.59,105.17 L207.92,104.34 L208.25,103.51 L208.58,102.68 L208.91,101.84 L209.24,101.01 L209.57,100.17 L209.90,99.34 L210.23,98.50 L210.57,97.66 L210.90,96.82 L211.23,95.98 L211.56,95.14 L211.89,94.29 L212.22,93.45 L212.55,92.60 L212.88,91.75 L213.21,90.91 L213.54,90.06 L213.87,89.20 L214.20,88.35 L214.53,87.50 L214.86,86.64 L215.19,85.78 L215.52,84.93 L215.85,84.07 L216.18,83.21 L216.51,82.34 L216.84,81.48 L217.18,80.62 L217.51,79.75 L217.84,78.88 L218.17,78.02 L218.50,77.15 L218.83,76.28 L219.16,75.40 L219.49,74.53 L219.82,73.66 L220.15,72.78 L220.48,71.90 L220.81,71.03 L221.14,70.15 L221.47,69.26 L221.80,68.38 L222.13,67.50 L222.46,66.61 L222.79,65.73 L223.12,64.84 L223.46,63.95 L223.79,63.06 L224.12,62.17 L224.45,61.28 L224.78,60.39 L225.11,59.49 L225.44,58.60 L225.77,57.70 L226.10,56.80 L226.43,55.90 L226.76,55.00 L227.09,54.10 L227.42,53.19 L227.75,52.29 L228.08,51.38 L228.41,50.48 L228.74,49.57 L229.07,48.66 L229.40,47.76 L229.73,46.86 L230.07,45.97 L230.40,45.09 L230.73,44.22 L231.06,43.35 L231.39,42.49 L231.72,41.64 L232.05,40.79 L232.38,39.95 L232.71,39.11 L233.04,38.28 L233.37,37.46 L233.70,36.64 L234.03,35.83 L234.36,35.03 L234.69,34.23 L235.02,33.43 L235.35,32.64 L235.68,31.85 L235.83,31.50"/>
<path d="M58.20,325.27 L58.53,324.88 L58.86,324.48 L59.19,324.08 L59.52,323.68 L59.85,323.27 L60.18,322.86 L60.51,322.44 L60.84,322.02 L61.17,321.60 L61.51,321.18 L61.84,320.75 L62.17,320.32 L62.50,319.88 L62.83,319.44 L63.16,319.00 L63.49,318.55 L63.82,318.10 L64.15,317.65 L64.48,317.19 L64.81,316.73 L65.14,316.26 L65.47,315.79 L65.80,315.32 L66.13,314.85 L66.46,314.37 L66.79,313.88 L67.12,313.40 L67.45,312.91 L67.78,312.42 L68.12,311.92 L68.45,311.42 L68.78,310.91 L69.11,310.41 L69.44,309.90 L69.77,309.38 L70.10,308.86 L70.43,308.34 L70.76,307.82 L71.09,307.29 L71.42,306.75 L71.75,306.22 L72.08,305.68 L72.41,305.14 L72.74,304.59 L73.07,304.04 L73.40,303.49 L73.73,302.93 L74.06,302.37 L74.39,301.80 L74.73,301.24 L75.06,300.67 L75.39,300.09 L75.72,299.51 L76.05,298.93 L76.38,298.34 L76.71,297.76 L77.04,297.16 L77.37,296.57 L77.70,295.97 L78.03,295.37 L78.36,294.76 L78.69,294.15 L79.02,293.54 L79.35,292.92 L79.68,292.30 L80.01,291.67 L80.34,291.05 L80.67,290.42 L81.01,289.78 L81.34,289.14 L81.67,288.50 L82.00,287.86 L82.33,287.21 L82.66,286.56 L82.99,285.90 L83.32,285.24 L83.65,284.58 L83.98,283.91 L84.31,283.24 L84.64,282.57 L84.97,281.89 L85.30,281.21 L85.63,280.53 L85.96,279.84 L86.29,279.15 L86.62,278.46 L86.95,277.76 L87.28,277.06 L87.62,276.36 L87.95,275.65 L88.28,274.94 L88.61,274.23 L88.94,273.51 L89.27,272.79 L89.60,272.06 L89.93,271.33 L90.26,270.60 L90.59,269.87 L90.92,269.13 L91.25,268.38 L91.58,267.64 L91.91,266.89 L92.24,266.14 L92.57,265.38 L92.90,264.62 L93.23,263.86 L93.56,263.09 L93.90,262.32 L94.23,261.55 L94.56,260.77 L94.89,259.99 L95.22,259.21 L95.55,258.42 L95.88,257.63 L96.21,256.84 L96.54,256.04 L96.87,255.24 L97.20,254.44 L97.53,253.63 L97.86,252.82 L98.19,252.00 L98.52,251.19 L98.85,250.36 L99.18,249.54 L99.51,248.71 L99.84,247.88 L100.17,247.04 L100.51,246.21 L100.84,245.37 L101.17,244.52 L101.50,243.67 L101.83,242.82 L102.16,241.96 L102.49,241.11 L102.82,240.24 L103.15,239.38 L103.48,238.51 L103.81,237.64 L104.14,236.76 L104.47,235.88 L104.80,235.00 L105.13,234.11 L105.46,233.22 L105.79,232.33 L106.12,231.44 L106.45,230.54 L106.78,229.63 L107.12,228.73 L107.45,227.82 L107.78,226.91 L108.11,225.99 L108.44,225.07 L108.77,224.15 L109.10,223.22 L109.43,222.29 L109.76,221.36 L110.09,220.42 L110.42,219.48 L110.75,218.54 L111.08,217.59 L111.41,216.64 L111.74,215.69 L112.07,214.73 L112.40,213.77 L112.73,212.81 L113.06,211.84 L113.40,210.87 L113.73,209.90 L114.06,208.92 L114.39,207.94 L114.72,206.96 L115.05,205.97 L115.38,204.98 L115.71,203.99 L116.04,202.99 L116.37,201.99 L116.70,200.99 L117.03,199.98 L117.36,198.97 L117.69,197.96 L118.02,196.94 L118.35,195.92 L118.68,194.90 L119.01,193.87 L119.34,192.84 L119.67,191.81 L120.01,190.77 L120.34,189.73 L120.67,188.69 L121.00,187.64 L121.33,186.59 L121.66,185.54 L121.99,184.48 L122.32,183.42 L122.65,182.36 L122.98,181.29 L123.31,180.22 L123.64,179.15 L123.97,178.07 L124.30,176.99 L124.63,175.91 L124.96,174.83 L125.29,173.74 L125.62,172.64 L125.95,171.55 L126.29,170.45 L126.62,169.35 L126.95,168.24 L127.28,167.13 L127.61,166.02 L127.94,164.90 L128.27,163.78 L128.60,162.66 L128.93,161.53 L129.26,160.41 L129.59,159.27 L129.92,158.14 L130.25,157.00 L130.58,155.86 L130.91,154.71 L131.24,153.56 L131.57,152.41 L131.90,151.26 L132.23,150.10 L132.56,148.94 L132.90,147.77 L133.23,146.60 L133.56,145.43 L133.89,144.26 L134.22,143.08 L134.55,141.90 L134.88,140.72 L135.21,139.53 L135.54,138.34 L135.87,137.14 L136.20,135.95 L136.53,134.75 L136.86,133.54 L137.19,132.33 L137.52,131.12 L137.85,129.91 L138.18,128.69 L138.51,127.47 L138.84,126.25 L139.17,125.02 L139.51,123.79 L139.84,122.56 L140.17,121.33 L140.50,120.09 L140.83,118.84 L141.16,117.60 L141.49,116.35 L141.82,115.10 L142.15,113.84 L142.48,112.58 L142.81,111.32 L143.14,110.06 L143.47,108.79 L143.80,107.52 L144.13,106.24 L144.46,104.96 L144.79,103.68 L145.12,102.40 L145.45,101.11 L145.79,99.82 L146.12,98.53 L146.45,97.23 L146.78,95.93 L147.11,94.63 L147.44,93.32 L147.77,92.01 L148.10,90.70 L148.43,89.38 L148.76,88.06 L149.09,86.74 L149.42,85.41 L149.75,84.08 L150.08,82.75 L150.41,81.42 L150.74,80.08 L151.07,78.74 L151.40,77.39 L151.73,76.05 L152.06,74.69 L152.40,73.34 L152.73,71.98 L153.06,70.62 L153.39,69.26 L153.72,67.89 L154.05,66.52 L154.38,65.15 L154.71,63.77 L155.04,62.39 L155.37,61.01 L155.70,59.62 L156.03,58.23 L156.36,56.84 L156.69,55.45 L157.02,54.05 L157.35,52.65 L157.68,51.24 L158.01,49.84 L158.34,48.42 L158.68,47.01 L159.01,45.59 L159.34,44.17 L159.67,42.75 L160.00,41.32 L160.33,39.89 L160.66,38.46 L160.99,37.02 L161.32,35.58 L161.65,34.14 L161.98,32.70 L162.25,31.50"/>
<path d="M58.20,309.07 L58.53,308.37 L58.86,307.66 L59.19,306.95 L59.52,306.23 L59.85,305.51 L60.18,304.78 L60.51,304.04 L60.84,303.30 L61.17,302.55 L61.51,301.79 L61.84,301.03 L62.17,300.26 L62.50,299.49 L62.83,298.70 L63.16,297.92 L63.49,297.12 L63.82,296.32 L64.15,295.51 L64.48,294.70 L64.81,293.88 L65.14,293.05 L65.47,292.22 L65.80,291.38 L66.13,290.54 L66.46,289.69 L66.79,288.83 L67.12,287.96 L67.45,287.09 L67.78,286.22 L68.12,285.33 L68.45,284.44 L68.78,283.55 L69.11,282.64 L69.44,281.74 L69.77,280.82 L70.10,279.90 L70.43,278.97 L70.76,278.04 L71.09,277.10 L71.42,276.15 L71.75,275.20 L72.08,274.24 L72.41,273.28 L72.74,272.30 L73.07,271.33 L73.40,270.34 L73.73,269.35 L74.06,268.35 L74.39,267.35 L74.73,266.34 L75.06,265.33 L75.39,264.30 L75.72,263.28 L76.05,262.24 L76.38,261.20 L76.71,260.15 L77.04,259.10 L77.37,258.04 L77.70,256.98 L78.03,255.90 L78.36,254.83 L78.69,253.74 L79.02,252.65 L79.35,251.55 L79.68,250.45 L80.01,249.34 L80.34,248.23 L80.67,247.11 L81.01,245.98 L81.34,244.84 L81.67,243.70 L82.00,242.56 L82.33,241.40 L82.66,240.24 L82.99,239.08 L83.32,237.91 L83.65,236.73 L83.98,235.55 L84.31,234.36 L84.64,233.16 L84.97,231.96 L85.30,230.75 L85.63,229.53 L85.96,228.31 L86.29,227.09 L86.62,225.85 L86.95,224.61 L87.28,223.37 L87.62,222.12 L87.95,220.86 L88.28,219.59 L88.61,218.32 L88.94,217.05 L89.27,215.76 L89.60,214.47 L89.93,213.18 L90.26,211.88 L90.59,210.57 L90.92,209.26 L91.25,207.94 L91.58,206.61 L91.91,205.28 L92.24,203.94 L92.57,202.60 L92.90,201.25 L93.23,199.89 L93.56,198.53 L93.90,197.16 L94.23,195.79 L94.56,194.41 L94.89,193.02 L95.22,191.63 L95.55,190.23 L95.88,188.82 L96.21,187.41 L96.54,185.99 L96.87,184.57 L97.20,183.14 L97.53,181.71 L97.86,180.26 L98.19,178.82 L98.52,177.36 L98.85,175.90 L99.18,174.44 L99.51,172.96 L99.84,171.49 L100.17,170.00 L100.51,168.51 L100.84,167.02 L101.17,165.51 L101.50,164.00 L101.83,162.49 L102.16,160.97 L102.49,159.44 L102.82,157.91 L103.15,156.37 L103.48,154.83 L103.81,153.28 L104.14,151.72 L104.47,150.16 L104.80,148.59 L105.13,147.01 L105.46,145.43 L105.79,143.85 L106.12,142.25 L106.45,140.65 L106.78,139.05 L107.12,137.44 L107.45,135.82 L107.78,134.20 L108.11,132.57 L108.44,130.94 L108.77,129.29 L109.10,127.65 L109.43,126.00 L109.76,124.34 L110.09,122.67 L110.42,121.00 L110.75,119.32 L111.08,117.64 L111.41,115.95 L111.74,114.26 L112.07,112.56 L112.40,110.85 L112.73,109.14 L113.06,107.42 L113.40,105.70 L113.73,103.97 L114.06,102.23 L114.39,100.49 L114.72,98.74 L115.05,96.98 L115.38,95.22 L115.71,93.46 L116.04,91.69 L116.37,89.91 L116.70,88.12 L117.03,86.33 L117.36,84.54 L117.69,82.74 L118.02,80.93 L118.35,79.12 L118.68,77.30 L119.01,75.47 L119.34,73.64 L119.67,71.80 L120.01,69.96 L120.34,68.11 L120.67,66.26 L121.00,64.40 L121.33,62.53 L121.66,60.66 L121.99,58.78 L122.32,56.90 L122.65,55.01 L122.98,53.11 L123.31,51.21 L123.64,49.30 L123.97,47.39 L124.30,45.47 L124.63,43.54 L124.96,41.61 L125.29,39.68 L125.62,37.73 L125.95,35.78 L126.29,33.83 L126.62,31.87 L126.68,31.50"/>
<path d="M58.20,288.24 L58.53,287.14 L58.86,286.04 L59.19,284.93 L59.52,283.81 L59.85,282.68 L60.18,281.54 L60.51,280.38 L60.84,279.22 L61.17,278.05 L61.51,276.87 L61.84,275.68 L62.17,274.48 L62.50,273.27 L62.83,272.04 L63.16,270.81 L63.49,269.57 L63.82,268.32 L64.15,267.06 L64.48,265.79 L64.81,264.51 L65.14,263.22 L65.47,261.91 L65.80,260.60 L66.13,259.28 L66.46,257.95 L66.79,256.61 L67.12,255.26 L67.45,253.90 L67.78,252.53 L68.12,251.15 L68.45,249.76 L68.78,248.36 L69.11,246.95 L69.44,245.53 L69.77,244.10 L70.10,242.66 L70.43,241.21 L70.76,239.75 L71.09,238.29 L71.42,236.81 L71.75,235.32 L72.08,233.82 L72.41,232.31 L72.74,230.79 L73.07,229.27 L73.40,227.73 L73.73,226.18 L74.06,224.62 L74.39,223.06 L74.73,221.48 L75.06,219.89 L75.39,218.30 L75.72,216.69 L76.05,215.07 L76.38,213.45 L76.71,211.81 L77.04,210.17 L77.37,208.51 L77.70,206.84 L78.03,205.17 L78.36,203.49 L78.69,201.79 L79.02,200.09 L79.35,198.37 L79.68,196.65 L80.01,194.92 L80.34,193.17 L80.67,191.42 L81.01,189.66 L81.34,187.89 L81.67,186.10 L82.00,184.31 L82.33,182.51 L82.66,180.70 L82.99,178.88 L83.32,177.05 L83.65,175.21 L83.98,173.36 L84.31,171.50 L84.64,169.63 L84.97,167.75 L85.30,165.86 L85.63,163.97 L85.96,162.06 L86.29,160.14 L86.62,158.21 L86.95,156.28 L87.28,154.33 L87.62,152.37 L87.95,150.41 L88.28,148.43 L88.61,146.45 L88.94,144.45 L89.27,142.45 L89.60,140.44 L89.93,138.41 L90.26,136.38 L90.59,134.34 L90.92,132.28 L91.25,130.22 L91.58,128.15 L91.91,126.07 L92.24,123.98 L92.57,121.88 L92.90,119.77 L93.23,117.65 L93.56,115.52 L93.90,113.38 L94.23,111.24 L94.56,109.08 L94.89,106.91 L95.22,104.74 L95.55,102.55 L95.88,100.35 L96.21,98.15 L96.54,95.93 L96.87,93.71 L97.20,91.48 L97.53,89.23 L97.86,86.98 L98.19,84.72 L98.52,82.45 L98.85,80.17 L99.18,77.88 L99.51,75.58 L99.84,73.27 L100.17,70.95 L100.51,68.62 L100.84,66.28 L101.17,63.93 L101.50,61.58 L101.83,59.21 L102.16,56.83 L102.49,54.45 L102.82,52.05 L103.15,49.65 L103.48,47.24 L103.81,44.81 L104.14,42.38 L104.47,39.94 L104.80,37.49 L105.13,35.03 L105.46,32.56 L105.60,31.50"/>
<path d="M58.20,262.77 L58.53,261.20 L58.86,259.62 L59.19,258.02 L59.52,256.40 L59.85,254.77 L60.18,253.13 L60.51,251.47 L60.84,249.80 L61.17,248.11 L61.51,246.41 L61.84,244.69 L62.17,242.96 L62.50,241.22 L62.83,239.46 L63.16,237.69 L63.49,235.90 L63.82,234.10 L64.15,232.28 L64.48,230.45 L64.81,228.61 L65.14,226.75 L65.47,224.87 L65.80,222.99 L66.13,221.08 L66.46,219.17 L66.79,217.24 L67.12,215.29 L67.45,213.33 L67.78,211.36 L68.12,209.37 L68.45,207.37 L68.78,205.36 L69.11,203.33 L69.44,201.28 L69.77,199.22 L70.10,197.15 L70.43,195.06 L70.76,192.96 L71.09,190.85 L71.42,188.72 L71.75,186.57 L72.08,184.42 L72.41,182.24 L72.74,180.06 L73.07,177.86 L73.40,175.64 L73.73,173.42 L74.06,171.17 L74.39,168.92 L74.73,166.65 L75.06,164.36 L75.39,162.06 L75.72,159.75 L76.05,157.42 L76.38,155.08 L76.71,152.72 L77.04,150.35 L77.37,147.97 L77.70,145.57 L78.03,143.16 L78.36,140.74 L78.69,138.30 L79.02,135.84 L79.35,133.37 L79.68,130.89 L80.01,128.40 L80.34,125.89 L80.67,123.36 L81.01,120.82 L81.34,118.27 L81.67,115.71 L82.00,113.13 L82.33,110.53 L82.66,107.92 L82.99,105.30 L83.32,102.67 L83.65,100.02 L83.98,97.35 L84.31,94.68 L84.64,91.98 L84.97,89.28 L85.30,86.56 L85.63,83.83 L85.96,81.08 L86.29,78.32 L86.62,75.54 L86.95,72.75 L87.28,69.95 L87.62,67.13 L87.95,64.30 L88.28,61.46 L88.61,58.60 L88.94,55.73 L89.27,52.84 L89.60,49.94 L89.93,47.03 L90.26,44.10 L90.59,41.16 L90.92,38.21 L91.25,35.24 L91.58,32.25 L91.66,31.50"/>
</g>
<path d="M58.20,343.79 L58.53,343.74 L58.86,343.70 L59.19,343.65 L59.52,343.61 L59.85,343.56 L60.18,343.52 L60.51,343.47 L60.84,343.42 L61.17,343.38 L61.51,343.33 L61.84,343.28 L62.17,343.24 L62.50,343.19 L62.83,343.14 L63.16,343.09 L63.49,343.04 L63.82,342.99 L64.15,342.94 L64.48,342.89 L64.81,342.84 L65.14,342.78 L65.47,342.73 L65.80,342.68 L66.13,342.63 L66.46,342.57 L66.79,342.52 L67.12,342.47 L67.45,342.41 L67.78,342.36 L68.12,342.30 L68.45,342.25 L68.78,342.19 L69.11,342.13 L69.44,342.08 L69.77,342.02 L70.10,341.96 L70.43,341.90 L70.76,341.85 L71.09,341.79 L71.42,341.73 L71.75,341.67 L72.08,341.61 L72.41,341.55 L72.74,341.49 L73.07,341.43 L73.40,341.37 L73.73,341.30 L74.06,341.24 L74.39,341.18 L74.73,341.12 L75.06,341.05 L75.39,340.99 L75.72,340.92 L76.05,340.86 L76.38,340.79 L76.71,340.73 L77.04,340.66 L77.37,340.60 L77.70,340.53 L78.03,340.46 L78.36,340.40 L78.69,340.33 L79.02,340.26 L79.35,340.19 L79.68,340.12 L80.01,340.05 L80.34,339.98 L80.67,339.91 L81.01,339.84 L81.34,339.77 L81.67,339.70 L82.00,339.63 L82.33,339.56 L82.66,339.48 L82.99,339.41 L83.32,339.34 L83.65,339.26 L83.98,339.19 L84.31,339.12 L84.64,339.04 L84.97,338.97 L85.30,338.89 L85.63,338.81 L85.96,338.74 L86.29,338.66 L86.62,338.58 L86.95,338.51 L87.28,338.43 L87.62,338.35 L87.95,338.27 L88.28,338.19 L88.61,338.11 L88.94,338.03 L89.27,337.95 L89.60,337.87 L89.93,337.79 L90.26,337.71 L90.59,337.63 L90.92,337.55 L91.25,337.46 L91.58,337.38 L91.91,337.30 L92.24,337.22 L92.57,337.13 L92.90,337.05 L93.23,336.96 L93.56,336.88 L93.90,336.79 L94.23,336.71 L94.56,336.62 L94.89,336.53 L95.22,336.45 L95.55,336.36 L95.88,336.27 L96.21,336.18 L96.54,336.09 L96.87,336.00 L97.20,335.92 L97.53,335.83 L97.86,335.74 L98.19,335.64 L98.52,335.55 L98.85,335.46 L99.18,335.37 L99.51,335.28 L99.84,335.19 L100.17,335.09 L100.51,335.00 L100.84,334.91 L101.17,334.81 L101.50,334.72 L101.83,334.62 L102.16,334.53 L102.49,334.43 L102.82,334.34 L103.15,334.24 L103.48,334.15 L103.81,334.05 L104.14,333.95 L104.47,333.85 L104.80,333.76 L105.13,333.66 L105.46,333.56 L105.79,333.46 L106.12,333.36 L106.45,333.26 L106.78,333.16 L107.12,333.06 L107.45,332.96 L107.78,332.86 L108.11,332.75 L108.44,332.65 L108.77,332.55 L109.10,332.45 L109.43,332.34 L109.76,332.24 L110.09,332.14 L110.42,332.03 L110.75,331.93 L111.08,331.82 L111.41,331.72 L111.74,331.61 L112.07,331.50 L112.40,331.40 L112.73,331.29 L113.06,331.18 L113.40,331.07 L113.73,330.97 L114.06,330.86 L114.39,330.75 L114.72,330.64 L115.05,330.53 L115.38,330.42 L115.71,330.31 L116.04,330.20 L116.37,330.09 L116.70,329.98 L117.03,329.86 L117.36,329.75 L117.69,329.64 L118.02,329.53 L118.35,329.41 L118.68,329.30 L119.01,329.19 L119.34,329.07 L119.67,328.96 L120.01,328.84 L120.34,328.73 L120.67,328.61 L121.00,328.49 L121.33,328.38 L121.66,328.26 L121.99,328.14 L122.32,328.02 L122.65,327.91 L122.98,327.79 L123.31,327.67 L123.64,327.55 L123.97,327.43 L124.30,327.31 L124.63,327.19 L124.96,327.07 L125.29,326.95 L125.62,326.83 L125.95,326.71 L126.29,326.58 L126.62,326.46 L126.95,326.34 L127.28,326.21 L127.61,326.09 L127.94,325.97 L128.27,325.84 L128.60,325.72 L128.93,325.59 L129.26,325.47 L129.59,325.34 L129.92,325.22 L130.25,325.09 L130.58,324.96 L130.91,324.83 L131.24,324.71 L131.57,324.58 L131.90,324.45 L132.23,324.32 L132.56,324.19 L132.90,324.06 L133.23,323.93 L133.56,323.80 L133.89,323.67 L134.22,323.54 L134.55,323.41 L134.88,323.28 L135.21,323.15 L135.54,323.02 L135.87,322.88 L136.20,322.75 L136.53,322.62 L136.86,322.48 L137.19,322.35 L137.52,322.21 L137.85,322.08 L138.18,321.94 L138.51,321.81 L138.84,321.67 L139.17,321.54 L139.51,321.40 L139.84,321.26 L140.17,321.13 L140.50,320.99 L140.83,320.85 L141.16,320.71 L141.49,320.57 L141.82,320.43 L142.15,320.29 L142.48,320.15 L142.81,320.01 L143.14,319.87 L143.47,319.73 L143.80,319.59 L144.13,319.45 L144.46,319.31 L144.79,319.16 L145.12,319.02 L145.45,318.88 L145.79,318.74 L146.12,318.59 L146.45,318.45 L146.78,318.30 L147.11,318.16 L147.44,318.01 L147.77,317.87 L148.10,317.72 L148.43,317.58 L148.76,317.43 L149.09,317.28 L149.42,317.13 L149.75,316.99 L150.08,316.84 L150.41,316.69 L150.74,316.54 L151.07,316.39 L151.40,316.24 L151.73,316.09 L152.06,315.94 L152.40,315.79 L152.73,315.64 L153.06,315.49 L153.39,315.34 L153.72,315.19 L154.05,315.04 L154.38,314.88 L154.71,314.73 L155.04,314.58 L155.37,314.42 L155.70,314.27 L156.03,314.11 L156.36,313.96 L156.69,313.81 L157.02,313.65 L157.35,313.49 L157.68,313.34 L158.01,313.18 L158.34,313.02 L158.68,312.87 L159.01,312.71 L159.34,312.55 L159.67,312.39 L160.00,312.24 L160.33,312.08 L160.66,311.92 L160.99,311.76 L161.32,311.60 L161.65,311.44 L161.98,311.28 L162.31,311.12 L162.64,310.96 L162.97,310.79 L163.30,310.63 L163.63,310.47 L163.96,310.31 L164.29,310.14 L164.62,309.98 L164.95,309.82 L165.29,309.65 L165.62,309.49 L165.95,309.32 L166.28,309.16 L166.61,308.99 L166.94,308.83 L167.27,308.66 L167.60,308.49 L167.93,308.33 L168.26,308.16 L168.59,307.99 L168.92,307.83 L169.25,307.66 L169.58,307.49 L169.91,307.32 L170.24,307.15 L170.57,306.98 L170.90,306.81 L171.23,306.64 L171.56,306.47 L171.90,306.30 L172.23,306.13 L172.56,305.96 L172.89,305.78 L173.22,305.61 L173.55,305.44 L173.88,305.27 L174.21,305.09 L174.54,304.92 L174.87,304.75 L175.20,304.57 L175.53,304.40 L175.86,304.22 L176.19,304.05 L176.52,303.87 L176.85,303.69 L177.18,303.52 L177.51,303.34 L177.84,303.16 L178.18,302.99 L178.51,302.81 L178.84,302.63 L179.17,302.45 L179.50,302.27 L179.83,302.10 L180.16,301.92 L180.49,301.74 L180.82,301.56 L181.15,301.38 L181.48,301.19 L181.81,301.01 L182.14,300.83 L182.47,300.65 L182.80,300.47 L183.13,300.29 L183.46,300.10 L183.79,299.92 L184.12,299.74 L184.45,299.55 L184.79,299.37 L185.12,299.18 L185.45,299.00 L185.78,298.81 L186.11,298.63 L186.44,298.44 L186.77,298.26 L187.10,298.07 L187.43,297.88 L187.76,297.70 L188.09,297.51 L188.42,297.32 L188.75,297.13 L189.08,296.94 L189.41,296.76 L189.74,296.57 L190.07,296.38 L190.40,296.19 L190.73,296.00 L191.07,295.81 L191.40,295.62 L191.73,295.43 L192.06,295.23 L192.39,295.04 L192.72,294.85 L193.05,294.66 L193.38,294.46 L193.71,294.27 L194.04,294.08 L194.37,293.88 L194.70,293.69 L195.03,293.50 L195.36,293.30 L195.69,293.11 L196.02,292.91 L196.35,292.72 L196.68,292.52 L197.01,292.32 L197.34,292.13 L197.68,291.93 L198.01,291.73 L198.34,291.53 L198.67,291.34 L199.00,291.14 L199.33,290.94 L199.66,290.74 L199.99,290.54 L200.32,290.34 L200.65,290.14 L200.98,289.94 L201.31,289.74 L201.64,289.54 L201.97,289.34 L202.30,289.14 L202.63,288.93 L202.96,288.73 L203.29,288.53 L203.62,288.33 L203.95,288.12 L204.29,287.92 L204.62,287.72 L204.95,287.51 L205.28,287.31 L205.61,287.10 L205.94,286.90 L206.27,286.69 L206.60,286.49 L206.93,286.28 L207.26,286.07 L207.59,285.87 L207.92,285.66 L208.25,285.45 L208.58,285.24 L208.91,285.04 L209.24,284.83 L209.57,284.62 L209.90,284.41 L210.23,284.20 L210.57,283.99 L210.90,283.78 L211.23,283.57 L211.56,283.36 L211.89,283.15 L212.22,282.94 L212.55,282.73 L212.88,282.51 L213.21,282.30 L213.54,282.09 L213.87,281.88 L214.20,281.66 L214.53,281.45 L214.86,281.24 L215.19,281.02 L215.52,280.81 L215.85,280.59 L216.18,280.38 L216.51,280.16 L216.84,279.95 L217.18,279.73 L217.51,279.51 L217.84,279.30 L218.17,279.08 L218.50,278.86 L218.83,278.64 L219.16,278.43 L219.49,278.21 L219.82,277.99 L220.15,277.77 L220.48,277.55 L220.81,277.33 L221.14,277.11 L221.47,276.89 L221.80,276.67 L222.13,276.45 L222.46,276.23 L222.79,276.01 L223.12,275.79 L223.46,275.56 L223.79,275.34 L224.12,275.12 L224.45,274.90 L224.78,274.67 L225.11,274.45 L225.44,274.22 L225.77,274.00 L226.10,273.78 L226.43,273.55 L226.76,273.32 L227.09,273.10 L227.42,272.87 L227.75,272.65 L228.08,272.42 L228.41,272.19 L228.74,271.97 L229.07,271.74 L229.40,271.51 L229.73,271.29 L230.07,271.07 L230.40,270.85 L230.73,270.63 L231.06,270.41 L231.39,270.20 L231.72,269.98 L232.05,269.77 L232.38,269.56 L232.71,269.35 L233.04,269.15 L233.37,268.94 L233.70,268.74 L234.03,268.53 L234.36,268.33 L234.69,268.13 L235.02,267.93 L235.35,267.74 L235.68,267.54 L236.01,267.34 L236.34,267.15 L236.68,266.96 L237.01,266.76 L237.34,266.57 L237.67,266.38 L238.00,266.19 L238.33,266.01 L238.66,265.82 L238.99,265.63 L239.32,265.45 L239.65,265.27 L239.98,265.08 L240.31,264.90 L240.64,264.72 L240.97,264.54 L241.30,264.37 L241.63,264.19 L241.96,264.02 L242.29,263.84 L242.62,263.67 L242.96,263.50 L243.29,263.33 L243.62,263.16 L243.95,263.00 L244.28,262.83 L244.61,262.67 L244.94,262.51 L245.27,262.35 L245.60,262.19 L245.93,262.03 L246.26,261.88 L246.59,261.73 L246.92,261.58 L247.25,261.43 L247.58,261.29 L247.91,261.14 L248.24,261.00 L248.57,260.87 L248.90,260.73 L249.23,260.60 L249.57,260.47 L249.90,260.35 L250.23,260.23 L250.56,260.11 L250.89,259.99 L251.22,259.88 L251.55,259.77 L251.88,259.67 L252.21,259.57 L252.54,259.47 L252.87,259.37 L253.20,259.28 L253.53,259.20 L253.86,259.12 L254.19,259.04 L254.52,258.97 L254.85,258.90 L255.18,258.83 L255.51,258.78 L255.85,258.72 L256.18,258.67 L256.51,258.63 L256.84,258.60 L257.17,258.57 L257.50,258.55 L257.83,258.53 L258.16,258.52 L258.49,258.52 L258.82,258.52 L259.15,258.52 L259.48,258.53 L259.81,258.54 L260.14,258.56 L260.47,258.58 L260.80,258.61 L261.13,258.64 L261.46,258.67 L261.79,258.70 L262.12,258.74 L262.46,258.78 L262.79,258.83 L263.12,258.87 L263.45,258.92 L263.78,258.96 L264.11,259.01 L264.44,259.06 L264.77,259.11 L265.10,259.16 L265.43,259.21 L265.76,259.26 L266.09,259.31 L266.42,259.37 L266.75,259.42 L267.08,259.47 L267.41,259.52 L267.74,259.56 L268.07,259.60 L268.40,259.64 L268.73,259.67 L269.07,259.70 L269.40,259.72 L269.73,259.73 L270.06,259.74 L270.39,259.73 L270.72,259.73 L271.05,259.71 L271.38,259.68 L271.71,259.63 L272.04,259.57 L272.37,259.50 L272.70,259.41 L273.03,259.30 L273.36,259.17 L273.69,259.02 L274.02,258.86 L274.35,258.66 L274.68,258.45 L275.01,258.21 L275.35,257.94 L275.68,257.65 L276.01,257.34 L276.34,257.01 L276.67,256.65 L277.00,256.27 L277.33,255.87 L277.66,255.44 L277.99,254.99 L278.32,254.53 L278.65,254.05 L278.98,253.56 L279.31,253.06 L279.64,252.55 L279.97,252.03 L280.30,251.50 L280.63,250.97 L280.96,250.43 L281.29,249.90 L281.62,249.37 L281.96,248.83 L282.29,248.30 L282.62,247.77 L282.95,247.23 L283.28,246.70 L283.61,246.17 L283.94,245.63 L284.27,245.10 L284.60,244.57 L284.93,244.03 L285.26,243.50 L285.59,242.97 L285.92,242.43 L286.25,241.90 L286.58,241.37 L286.91,240.84 L287.24,240.31 L287.57,239.77 L287.90,239.24 L288.24,238.71 L288.57,238.18 L288.90,237.66 L289.23,237.13 L289.56,236.60 L289.89,236.07 L290.22,235.55 L290.55,235.02 L290.88,234.49 L291.21,233.97 L291.54,233.44 L291.87,232.92 L292.20,232.40 L292.53,231.87 L292.86,231.35 L293.19,230.83 L293.52,230.31 L293.85,229.79 L294.18,229.27 L294.51,228.75 L294.85,228.23 L295.18,227.72 L295.51,227.20 L295.84,226.69 L296.17,226.17 L296.50,225.66 L296.83,225.15 L297.16,224.64 L297.49,224.13 L297.82,223.62 L298.15,223.11 L298.48,222.61 L298.81,222.11 L299.14,221.61 L299.47,221.11 L299.80,220.62 L300.13,220.12 L300.46,219.64 L300.79,219.15 L301.12,218.67 L301.46,218.19 L301.79,217.71 L302.12,217.23 L302.45,216.76 L302.78,216.30 L303.11,215.83 L303.44,215.37 L303.77,214.91 L304.10,214.46 L304.43,214.00 L304.76,213.56 L305.09,213.11 L305.42,212.67 L305.75,212.24 L306.08,211.80 L306.41,211.38 L306.74,210.95 L307.07,210.53 L307.40,210.11 L307.74,209.69 L308.07,209.28 L308.40,208.87 L308.73,208.46 L309.06,208.06 L309.39,207.65 L309.72,207.25 L310.05,206.85 L310.38,206.46 L310.71,206.06 L311.04,205.67 L311.37,205.28 L311.70,204.89 L312.03,204.50 L312.36,204.12 L312.69,203.73 L313.02,203.35 L313.35,202.97 L313.68,202.59 L314.01,202.20 L314.35,201.82 L314.68,201.44 L315.01,201.06 L315.34,200.67 L315.67,200.29 L316.00,199.91 L316.33,199.53 L316.66,199.14 L316.99,198.76 L317.32,198.38 L317.65,198.00 L317.98,197.62 L318.31,197.23 L318.64,196.85 L318.97,196.47 L319.30,196.09 L319.63,195.70 L319.96,195.32 L320.29,194.94 L320.63,194.56 L320.96,194.17 L321.29,193.79 L321.62,193.41 L321.95,193.03 L322.28,192.64 L322.61,192.26 L322.94,191.88 L323.27,191.50 L323.60,191.12 L323.93,190.73 L324.26,190.35 L324.59,189.97 L324.92,189.59 L325.25,189.20 L325.58,188.82 L325.91,188.44 L326.24,188.06 L326.57,187.67 L326.90,187.29 L327.24,186.91 L327.57,186.53 L327.90,186.14 L328.23,185.76 L328.56,185.38 L328.89,185.00 L329.22,184.61 L329.55,184.23 L329.88,183.85 L330.21,183.47 L330.54,183.08 L330.87,182.70 L331.20,182.32 L331.53,181.93 L331.86,181.55 L332.19,181.17 L332.52,180.78 L332.85,180.40 L333.18,180.01 L333.51,179.63 L333.85,179.24 L334.18,178.86 L334.51,178.47 L334.84,178.09 L335.17,177.70 L335.50,177.31 L335.83,176.93 L336.16,176.54 L336.49,176.15 L336.82,175.76 L337.15,175.38 L337.48,174.99 L337.81,174.60 L338.14,174.21 L338.47,173.82 L338.80,173.43 L339.13,173.04 L339.46,172.65 L339.79,172.25 L340.13,171.86 L340.46,171.47 L340.79,171.08 L341.12,170.68 L341.45,170.29 L341.78,169.90 L342.11,169.50 L342.44,169.11 L342.77,168.71 L343.10,168.32 L343.43,167.92 L343.76,167.53 L344.09,167.13 L344.42,166.74 L344.75,166.34 L345.08,165.94 L345.41,165.55 L345.74,165.15 L346.07,164.75 L346.40,164.35 L346.74,163.95 L347.07,163.56 L347.40,163.16 L347.73,162.76 L348.06,162.36 L348.39,161.96 L348.72,161.56 L349.05,161.16 L349.38,160.76 L349.71,160.36 L350.04,159.96 L350.37,159.55 L350.70,159.15 L351.03,158.75 L351.36,158.35 L351.69,157.94 L352.02,157.54 L352.35,157.14 L352.68,156.73 L353.02,156.33 L353.35,155.93 L353.68,155.52 L354.01,155.12 L354.34,154.71 L354.67,154.31 L355.00,153.90 L355.33,153.49 L355.66,153.09 L355.99,152.68 L356.32,152.27 L356.65,151.87 L356.98,151.46 L357.31,151.05 L357.64,150.64 L357.97,150.24 L358.30,149.83 L358.63,149.42 L358.96,149.01 L359.29,148.60 L359.63,148.19 L359.96,147.78 L360.29,147.37 L360.62,146.96 L360.95,146.55 L361.28,146.14 L361.61,145.73 L361.94,145.32 L362.27,144.91 L362.60,144.49 L362.93,144.08 L363.26,143.67 L363.59,143.26 L363.92,142.84 L364.25,142.43 L364.58,142.02 L364.91,141.61 L365.24,141.19 L365.57,140.78 L365.90,140.36 L366.24,139.95 L366.57,139.54 L366.90,139.12 L367.23,138.71 L367.56,138.29 L367.89,137.88 L368.22,137.46 L368.55,137.05 L368.88,136.63 L369.21,136.21 L369.54,135.80 L369.87,135.38 L370.20,134.97 L370.53,134.55 L370.86,134.13 L371.19,133.71 L371.52,133.30 L371.85,132.88 L372.18,132.46 L372.52,132.04 L372.85,131.63 L373.18,131.21 L373.51,130.79 L373.84,130.37 L374.17,129.95 L374.50,129.53 L374.83,129.11 L375.16,128.69 L375.49,128.28 L375.82,127.86 L376.15,127.44 L376.48,127.02 L376.81,126.60 L377.14,126.18 L377.47,125.76 L377.80,125.34 L378.13,124.92 L378.46,124.50 L378.79,124.08 L379.13,123.66 L379.46,123.23 L379.79,122.81 L380.12,122.39 L380.45,121.97 L380.78,121.55 L381.11,121.13 L381.44,120.71 L381.77,120.29 L382.10,119.87 L382.43,119.44 L382.76,119.02 L383.09,118.60 L383.42,118.18 L383.75,117.76 L384.08,117.33 L384.41,116.91 L384.74,116.49 L385.07,116.07 L385.41,115.65 L385.74,115.22 L386.07,114.80 L386.40,114.38 L386.73,113.95 L387.06,113.53 L387.39,113.11 L387.72,112.69 L388.05,112.26 L388.38,111.84 L388.60,111.56" fill="none" stroke="#0CE64E" stroke-width="1.65" stroke-dasharray="4.5 2.2"/>
<g font-family="Liberation Sans, sans-serif" font-weight="bold" font-size="15.5" fill="#686868">
<text transform="translate(54.9,351.25) scale(1,1.05)" text-anchor="end">0.00</text>
<text transform="translate(54.9,272.60) scale(1,1.05)" text-anchor="end">0.05</text>
<text transform="translate(54.9,193.95) scale(1,1.05)" text-anchor="end">0.10</text>
<text transform="translate(54.9,115.30) scale(1,1.05)" text-anchor="end">0.15</text>
<text transform="translate(54.9,36.65) scale(1,1.05)" text-anchor="end">0.20</text>
<text transform="translate(80.23,362.9) scale(1,1.05)" text-anchor="middle">0.5</text>
<text transform="translate(135.29,362.9) scale(1,1.05)" text-anchor="middle">1.0</text>
<text transform="translate(190.36,362.9) scale(1,1.05)" text-anchor="middle">1.5</text>
<text transform="translate(245.43,362.9) scale(1,1.05)" text-anchor="middle">2.0</text>
<text transform="translate(300.49,362.9) scale(1,1.05)" text-anchor="middle">2.5</text>
<text transform="translate(355.56,362.9) scale(1,1.05)" text-anchor="middle">3.0</text>
</g>
<text transform="translate(223.9,16.9) scale(1,1.045)" text-anchor="middle" font-family="Liberation Sans, sans-serif" font-weight="bold" font-size="18.6" fill="#686868">Triplet <tspan font-weight="normal">(</tspan>n<tspan font-weight="normal">=</tspan>3<tspan font-weight="normal">)</tspan></text>
<text transform="translate(187,385.2) scale(1,1.045)" font-family="Liberation Sans, sans-serif" font-weight="bold" font-size="15.5" fill="#686868"><tspan font-style="italic">M</tspan><tspan font-size="11" dx="0.8" dy="3.6">DM</tspan><tspan dy="-3.6" dx="0.6" font-weight="normal"> [</tspan><tspan dx="0.4">TeV</tspan><tspan dx="0.9" font-weight="normal">]</tspan></text>
<g transform="translate(16,211.7) rotate(-90)"><text x="0" y="0" font-family="Liberation Sans, sans-serif" font-size="15.5" fill="#686868">Ω<tspan font-weight="bold" font-size="11" dx="0.1" dy="4">DM</tspan><tspan font-weight="bold" font-style="italic" dy="-4">h</tspan><tspan font-weight="bold" font-size="11" dy="-6.8">2</tspan></text></g>
<g font-family="Liberation Sans, sans-serif" font-weight="bold" font-size="15.5" fill="#000" stroke="#000" stroke-width="0.3">
<text transform="translate(69.3,83.0) scale(1,1.05)">36</text>
<text transform="translate(97.5,98.8) scale(1,1.05)">25</text>
<text transform="translate(119.6,83.0) scale(1,1.05)">16</text>
<text transform="translate(145.3,114.7) scale(1,1.05)">9</text>
<text transform="translate(222.3,83.0) scale(1,1.05)">4</text>
<text transform="translate(258.3,98.8) scale(1,1.05)">3</text>
<text transform="translate(311.6,83.0) scale(1,1.05)">2</text>
<text x="351" y="115.2"><tspan font-style="italic">N</tspan><tspan font-style="italic" font-size="11.2" dx="0.3" dy="2.2">F</tspan><tspan dx="0.5" dy="-2.2">=1</tspan></text>
</g>
<text x="116" y="152.3" font-family="Liberation Sans, sans-serif" font-weight="bold" font-size="15.5" fill="#0000ff">Planck 2015</text>
</g>
</svg>
</body></html>
